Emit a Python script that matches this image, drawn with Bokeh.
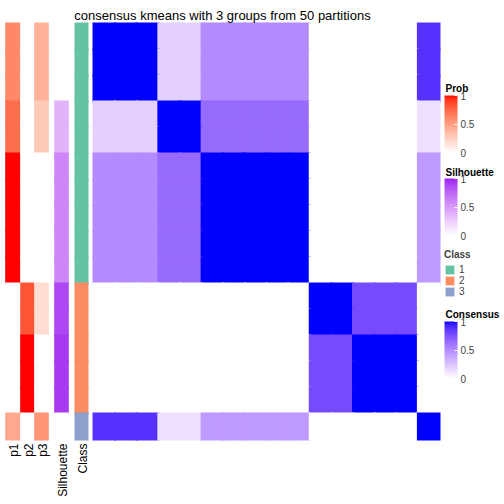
import math
from bokeh.plotting import figure
from bokeh.models import (Range1d, LinearColorMapper, ColorBar, FixedTicker,
                          NumeralTickFormatter, Legend, LegendItem, ColumnDataSource)
from bokeh.core.properties import value
from bokeh.embed import file_html
from bokeh.resources import INLINE

# ---------------- data ----------------
title_text = "consensus kmeans with 3 groups from 50 partitions"
annotation_labels = ["p1", "p2", "p3", "Silhouette", "Class"]
legend_titles = ["Prob", "Silhouette", "Class", "Consensus"]
class_labels = ["1", "2", "3"]
class_colors = ["#66C2A5", "#FC8D62", "#8DA0CB"]

# per-sample annotations (samples in display order, top to bottom)
p1 = [0.60, 0.60, 0.60, 0.72, 0.72, 1.00, 1.00, 1.00, 1.00, 1.00, 0.00, 0.00, 0.00, 0.00, 0.00, 0.45]
p2 = [0.00, 0.00, 0.00, 0.00, 0.00, 0.00, 0.00, 0.00, 0.00, 0.00, 0.82, 0.82, 1.00, 1.00, 1.00, 0.00]
p3 = [0.40, 0.40, 0.40, 0.28, 0.28, 0.00, 0.00, 0.00, 0.00, 0.00, 0.18, 0.18, 0.00, 0.00, 0.00, 0.55]
silhouette = [0.00, 0.00, 0.00, 0.38, 0.38, 0.60, 0.60, 0.60, 0.60, 0.60, 0.88, 0.88, 0.93, 0.93, 0.93, 0.00]
sample_class = [1, 1, 1, 1, 1, 1, 1, 1, 1, 1, 2, 2, 2, 2, 2, 3]

consensus = [
    [1.00, 1.00, 1.00, 0.20, 0.20, 0.50, 0.50, 0.50, 0.50, 0.50, 0.00, 0.00, 0.00, 0.00, 0.00, 0.88],
    [1.00, 1.00, 1.00, 0.20, 0.20, 0.50, 0.50, 0.50, 0.50, 0.50, 0.00, 0.00, 0.00, 0.00, 0.00, 0.88],
    [1.00, 1.00, 1.00, 0.20, 0.20, 0.50, 0.50, 0.50, 0.50, 0.50, 0.00, 0.00, 0.00, 0.00, 0.00, 0.88],
    [0.20, 0.20, 0.20, 1.00, 1.00, 0.64, 0.64, 0.64, 0.64, 0.64, 0.00, 0.00, 0.00, 0.00, 0.00, 0.13],
    [0.20, 0.20, 0.20, 1.00, 1.00, 0.64, 0.64, 0.64, 0.64, 0.64, 0.00, 0.00, 0.00, 0.00, 0.00, 0.13],
    [0.50, 0.50, 0.50, 0.64, 0.64, 1.00, 1.00, 1.00, 1.00, 1.00, 0.00, 0.00, 0.00, 0.00, 0.00, 0.44],
    [0.50, 0.50, 0.50, 0.64, 0.64, 1.00, 1.00, 1.00, 1.00, 1.00, 0.00, 0.00, 0.00, 0.00, 0.00, 0.44],
    [0.50, 0.50, 0.50, 0.64, 0.64, 1.00, 1.00, 1.00, 1.00, 1.00, 0.00, 0.00, 0.00, 0.00, 0.00, 0.44],
    [0.50, 0.50, 0.50, 0.64, 0.64, 1.00, 1.00, 1.00, 1.00, 1.00, 0.00, 0.00, 0.00, 0.00, 0.00, 0.44],
    [0.50, 0.50, 0.50, 0.64, 0.64, 1.00, 1.00, 1.00, 1.00, 1.00, 0.00, 0.00, 0.00, 0.00, 0.00, 0.44],
    [0.00, 0.00, 0.00, 0.00, 0.00, 0.00, 0.00, 0.00, 0.00, 0.00, 1.00, 1.00, 0.78, 0.78, 0.78, 0.00],
    [0.00, 0.00, 0.00, 0.00, 0.00, 0.00, 0.00, 0.00, 0.00, 0.00, 1.00, 1.00, 0.78, 0.78, 0.78, 0.00],
    [0.00, 0.00, 0.00, 0.00, 0.00, 0.00, 0.00, 0.00, 0.00, 0.00, 0.78, 0.78, 1.00, 1.00, 1.00, 0.00],
    [0.00, 0.00, 0.00, 0.00, 0.00, 0.00, 0.00, 0.00, 0.00, 0.00, 0.78, 0.78, 1.00, 1.00, 1.00, 0.00],
    [0.00, 0.00, 0.00, 0.00, 0.00, 0.00, 0.00, 0.00, 0.00, 0.00, 0.78, 0.78, 1.00, 1.00, 1.00, 0.00],
    [0.88, 0.88, 0.88, 0.13, 0.13, 0.44, 0.44, 0.44, 0.44, 0.44, 0.00, 0.00, 0.00, 0.00, 0.00, 1.00],
]

# ---------------- colour ramps (LAB interpolation like colorRamp2) ----------------
def _hex_to_rgb(h):
    h = h.lstrip("#")
    return [int(h[i:i + 2], 16) / 255.0 for i in (0, 2, 4)]

def _to_lin(c):
    return c / 12.92 if c <= 0.04045 else ((c + 0.055) / 1.055) ** 2.4

def _from_lin(c):
    c = min(max(c, 0.0), 1.0)
    return 12.92 * c if c <= 0.0031308 else 1.055 * c ** (1 / 2.4) - 0.055

WX, WY, WZ = 0.95047, 1.0, 1.08883

def _rgb_to_lab(rgb):
    r, g, b = [_to_lin(c) for c in rgb]
    X = 0.4124 * r + 0.3576 * g + 0.1805 * b
    Y = 0.2126 * r + 0.7152 * g + 0.0722 * b
    Z = 0.0193 * r + 0.1192 * g + 0.9505 * b
    def f(t):
        return t ** (1 / 3) if t > 0.008856 else 7.787 * t + 16 / 116
    fx, fy, fz = f(X / WX), f(Y / WY), f(Z / WZ)
    return [116 * fy - 16, 500 * (fx - fy), 200 * (fy - fz)]

def _lab_to_hex(lab):
    L, a, b = lab
    fy = (L + 16) / 116
    fx = fy + a / 500
    fz = fy - b / 200
    def finv(t):
        return t ** 3 if t ** 3 > 0.008856 else (t - 16 / 116) / 7.787
    X, Y, Z = WX * finv(fx), WY * finv(fy), WZ * finv(fz)
    r = 3.2406 * X - 1.5372 * Y - 0.4986 * Z
    g = -0.9689 * X + 1.8758 * Y + 0.0415 * Z
    bb = 0.0557 * X - 0.2040 * Y + 1.0570 * Z
    return "#%02x%02x%02x" % tuple(int(round(_from_lin(c) * 255)) for c in (r, g, bb))

def lab_palette(c0, c1, n=256):
    l0, l1 = _rgb_to_lab(_hex_to_rgb(c0)), _rgb_to_lab(_hex_to_rgb(c1))
    return [_lab_to_hex([l0[k] + (l1[k] - l0[k]) * i / (n - 1) for k in range(3)]) for i in range(n)]

prob_mapper = LinearColorMapper(palette=lab_palette("#FFFFFF", "#FF0000"), low=0, high=1)
sil_mapper = LinearColorMapper(palette=lab_palette("#FFFFFF", "#A020F0"), low=0, high=1)
cons_mapper = LinearColorMapper(palette=lab_palette("#FFFFFF", "#0000FF"), low=0, high=1)

# ---------------- layout (pixel geometry of the picture) ----------------
OFF = 0.0            # figure origin in picture pixels
W = H = 504
HM_L, HM_R, HM_T, HM_B = 93.0, 439.0, 23.0, 439.0
n = len(consensus)
UX = (HM_R - HM_L) / n
UY = (HM_B - HM_T) / n

def dx(px):
    return (px - HM_L) / UX

def dy(py):
    return (py - HM_T) / UY

ann_cols = [(5, 20), (20, 34), (34, 48), (54, 68), (74, 88)]
FONT = "Liberation Sans"
OV = 2.0  # small overlap (px) to hide anti-aliasing seams between cells

p = figure(width=W, height=H, output_backend="svg", toolbar_location=None,
           x_range=Range1d(dx(OFF), dx(OFF + W)), y_range=Range1d(dy(OFF + H), dy(OFF)),
           min_border=0, outline_line_color=None, background_fill_color="white",
           border_fill_color="white")
p.axis.visible = False
p.grid.visible = False

# consensus heatmap
hx, hy, hv = [], [], []
for i in range(n):
    for j in range(n):
        hx.append(j + 0.5)
        hy.append(i + 0.5)
        hv.append(consensus[i][j])
src = ColumnDataSource(dict(x=hx, y=hy, v=hv))
p.rect(x="x", y="y", width=1 + OV / UX, height=1 + OV / UY, source=src,
       fill_color={"field": "v", "transform": cons_mapper}, line_color=None)

# annotation columns
rows = [i + 0.5 for i in range(n)]
def ann_rects(col, vals, mapper):
    x0, x1 = ann_cols[col]
    s = ColumnDataSource(dict(x=[dx((x0 + x1) / 2)] * n, y=rows, v=vals))
    p.rect(x="x", y="y", width=(x1 - x0 + 0.6) / UX, height=1 + OV / UY, source=s,
           fill_color={"field": "v", "transform": mapper}, line_color=None)

ann_rects(0, p1, prob_mapper)
ann_rects(1, p2, prob_mapper)
ann_rects(2, p3, prob_mapper)
ann_rects(3, silhouette, sil_mapper)

cx0, cx1 = ann_cols[4]
csrc = ColumnDataSource(dict(x=[dx((cx0 + cx1) / 2)] * n, y=rows,
                             c=[class_colors[k - 1] for k in sample_class]))
class_r = p.rect(x="x", y="y", width=(cx1 - cx0) / UX, height=1 + OV / UY, source=csrc,
                 fill_color="c", line_color=None)

# bottom annotation names
p.text(x=[dx((a + b) / 2) + 1.2 / UX for a, b in ann_cols], y=[dy(443)] * len(ann_cols),
       text=annotation_labels, angle=math.pi / 2, text_align="right",
       text_baseline="middle", text_font=value(FONT), text_font_size="12px",
       text_color="black")

# title
p.text(x=[dx(222)], y=[dy(14.5)], text=[title_text], text_align="center",
       text_baseline="alphabetic", text_font=value(FONT), text_font_size="13px",
       text_color="black")

# ---------------- legends ----------------
LEG_X = 444.0
bar_tops = [95, 178, 321]

def add_bar(mapper, top_px):
    cb = ColorBar(color_mapper=mapper, ticker=FixedTicker(ticks=[0, 0.5, 1]),
                  formatter=NumeralTickFormatter(format="0.[0]"),
                  width=13, height=57, padding=0, margin=0,
                  major_label_text_font=FONT, major_label_text_font_size="10px",
                  label_standoff=3, major_tick_line_color="white", major_tick_in=3,
                  major_tick_out=0, bar_line_color=None, border_line_color=None,
                  background_fill_alpha=0,
                  location=(LEG_X - OFF, (OFF + H) - top_px - 57))
    p.add_layout(cb, "center")

add_bar(prob_mapper, bar_tops[0])
add_bar(sil_mapper, bar_tops[1])
add_bar(cons_mapper, bar_tops[2])

# legend titles
p.text(x=[dx(LEG_X + 1)] * 3, y=[dy(88), dy(171.5), dy(314)],
       text=[legend_titles[0], legend_titles[1], legend_titles[3]],
       text_align="left", text_baseline="alphabetic", text_font=value(FONT),
       text_font_size="10px", text_font_style="bold", text_color="black")

legend = Legend(items=[LegendItem(label=class_labels[k], renderers=[class_r],
                                  index=sample_class.index(k + 1)) for k in range(3)],
                title=legend_titles[2], title_text_font=FONT, title_text_font_size="10px",
                title_text_font_style="bold", title_standoff=4,
                label_text_font=FONT, label_text_font_size="10px",
                glyph_width=11, glyph_height=11, label_height=11, label_width=10,
                spacing=0, padding=0, margin=0, label_standoff=4,
                border_line_color=None, background_fill_alpha=0,
                location=(LEG_X - OFF, (OFF + H) - 297))
p.add_layout(legend, "center")

open("out.html", "w").write(file_html(p, INLINE))
